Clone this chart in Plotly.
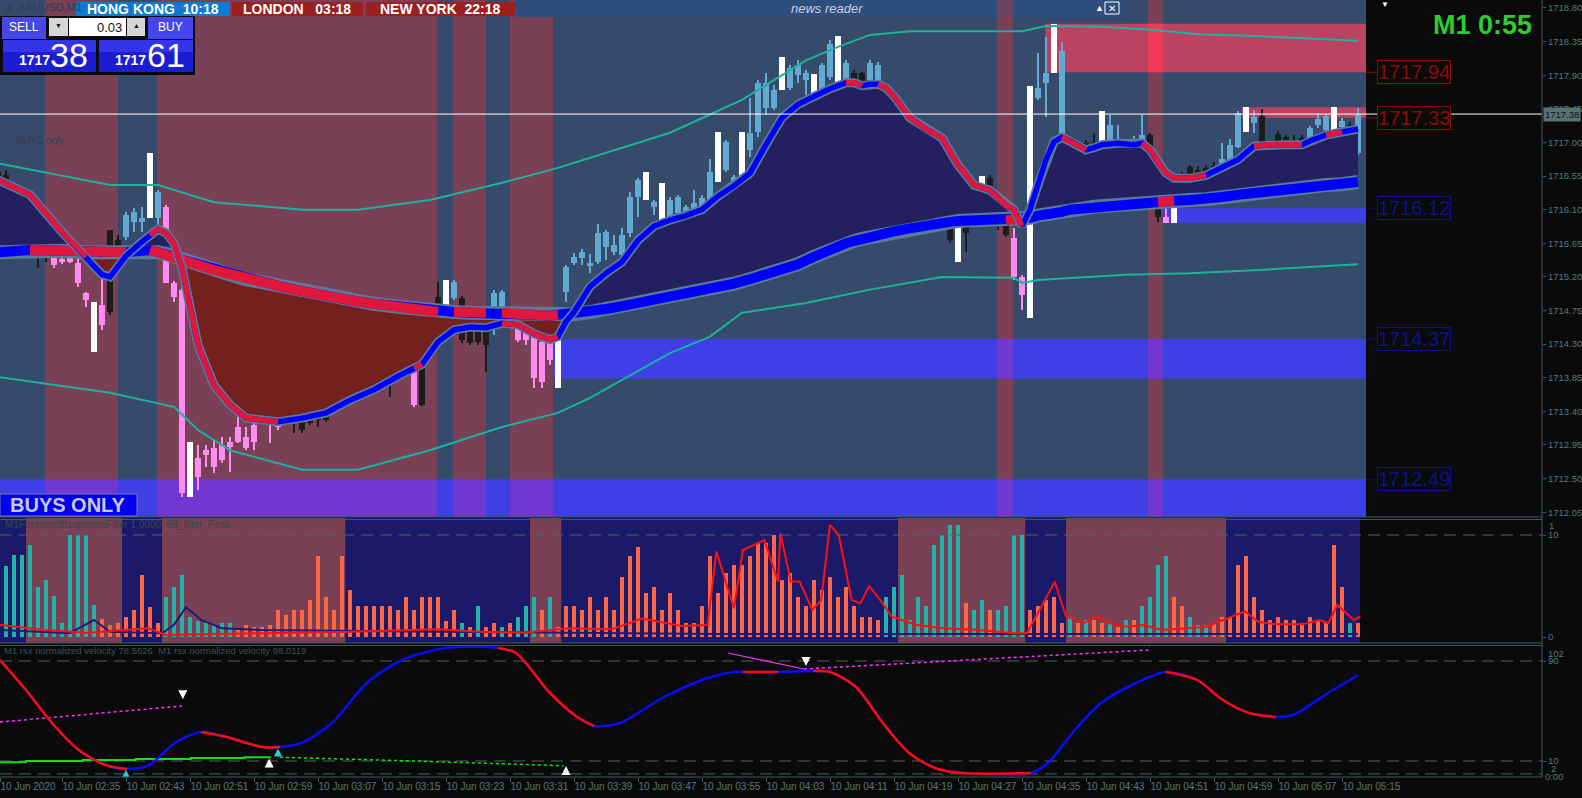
import plotly.graph_objects as go

W, H = 1582, 798
AXIS_PX = 1542

# ---------------- data (x = minute bar index, bar 0 = 02:27) ----------------
bars = list(range(171))
tick_bars = [0.25, 8, 16, 24, 32, 40, 48, 56, 64, 72, 80, 88, 96, 104, 112, 120, 128, 136, 144, 152, 160, 168]
tick_labels = ["10 Jun 2020", "10 Jun 02:35", "10 Jun 02:43", "10 Jun 02:51", "10 Jun 02:59", "10 Jun 03:07",
               "10 Jun 03:15", "10 Jun 03:23", "10 Jun 03:31", "10 Jun 03:39", "10 Jun 03:47", "10 Jun 03:55",
               "10 Jun 04:03", "10 Jun 04:11", "10 Jun 04:19", "10 Jun 04:27", "10 Jun 04:35", "10 Jun 04:43",
               "10 Jun 04:51", "10 Jun 04:59", "10 Jun 05:07", "10 Jun 05:15"]
price_ticks = [1712.05, 1712.50, 1712.95, 1713.40, 1713.85, 1714.30, 1714.75, 1715.20, 1715.65, 1716.10,
               1716.55, 1717.00, 1717.45, 1717.90, 1718.35, 1718.80]
last_price = 1717.38

# candle category: b=blue, k=black, p=pink, w=white
candle_type = ("kkkkkkk" "ppppp" "w" "p" "kk" "bbb" "w" "b" "ppp" "w" "ppppppppppp" "kkkkkkkkkkkkkkkk" "p"
               "kkk" "w" "b" "kkkk" "bb" "k" "ppppp" "w" "bbbbbbbbbb" "w" "b" "w" "bbbbbb" "w" "bb" "w" "bbbb"
               "w" "bbb" "w" "bb" "w" "b" "kk" "bb" "kkkkkkkkk" "w" "kk" "w" "kkk" "pp" "w" "bb" "w" "bb" "w"
               "kk" "w" "bbbbb" "kk" "p" "w" "kkkkk" "bbb" "w" "b" "k" "w" "kkkk" "bbb" "w" "b" "k" "b")

opens = [1716.60, 1716.56, 1716.23, 1716.06, 1716.12, 1715.92, 1715.56, 1715.45, 1715.44, 1715.47,
         1715.39, 1714.99, 1714.86, 1714.82, 1714.73, 1715.69, 1715.73, 1715.94, 1715.94, 1715.99,
         1715.99, 1716.14, 1715.12, 1715.03, 1712.25, 1712.78, 1712.88, 1712.91, 1712.95, 1712.99,
         1713.19, 1713.06, 1713.22, 1713.45, 1713.42, 1713.24, 1713.59, 1713.53, 1713.28, 1713.32,
         1713.55, 1713.78, 1713.71, 1713.66, 1714.13, 1714.13, 1713.78, 1713.91, 1713.99, 1714.09,
         1714.18, 1714.15, 1714.13, 1713.49, 1714.58, 1714.93, 1714.80, 1714.92, 1714.92, 1714.58,
         1714.58, 1714.62, 1714.78, 1714.78, 1714.62, 1714.53, 1714.49, 1714.40, 1714.33, 1714.32,
         1713.71, 1715.00, 1715.39, 1715.45, 1715.35, 1715.40, 1715.60, 1715.53, 1715.49, 1715.79,
         1716.27, 1716.23, 1716.14, 1716.46, 1716.00, 1716.06, 1716.06, 1716.10, 1716.12, 1716.14,
         1716.47, 1716.63, 1716.43, 1716.39, 1716.90, 1717.14, 1717.46, 1717.46, 1717.70, 1717.73,
         1717.90, 1717.84, 1717.92, 1717.70, 1717.88, 1717.60, 1717.84, 1717.93, 1717.93, 1717.84,
         1717.81, 1717.70, 1717.27, 1717.26, 1716.90, 1716.93, 1716.93, 1716.87, 1716.86, 1716.77,
         1716.07, 1715.87, 1716.23, 1716.19, 1716.52, 1716.14, 1716.03, 1715.72, 1715.20, 1714.65,
         1717.60, 1717.80, 1717.93, 1718.22, 1716.59, 1716.82, 1716.99, 1717.01, 1716.93, 1716.86,
         1716.90, 1716.94, 1716.93, 1716.94, 1717.10, 1716.46, 1716.00, 1715.92, 1716.47, 1716.67,
         1716.63, 1716.66, 1716.68, 1716.73, 1716.70, 1716.94, 1717.14, 1717.26, 1717.35, 1716.98,
         1717.11, 1717.07, 1717.03, 1717.06, 1717.03, 1717.23, 1717.17, 1717.10, 1717.21, 1717.23,
         1716.86]
highs = [1716.70, 1716.63, 1716.30, 1716.12, 1716.16, 1715.96, 1715.60, 1715.48, 1715.47, 1715.49,
         1715.47, 1715.00, 1714.86, 1715.25, 1715.83, 1715.76, 1716.07, 1716.12, 1716.14, 1716.86,
         1716.36, 1716.16, 1715.15, 1715.05, 1712.99, 1712.95, 1712.95, 1713.02, 1713.06, 1713.06,
         1713.32, 1713.19, 1713.28, 1713.53, 1713.45, 1713.28, 1713.62, 1713.55, 1713.35, 1713.42,
         1713.59, 1713.82, 1713.75, 1713.75, 1714.25, 1714.15, 1713.82, 1714.02, 1714.02, 1714.13,
         1714.22, 1714.18, 1714.32, 1714.56, 1714.65, 1715.13, 1715.16, 1715.16, 1714.94, 1714.62,
         1714.62, 1714.65, 1715.03, 1715.03, 1714.65, 1714.56, 1714.56, 1714.42, 1714.36, 1714.36,
         1714.76, 1715.36, 1715.52, 1715.57, 1715.51, 1715.91, 1715.83, 1715.76, 1715.85, 1716.34,
         1716.52, 1716.60, 1716.23, 1716.46, 1716.27, 1716.30, 1716.16, 1716.36, 1716.30, 1716.78,
         1717.14, 1717.03, 1716.56, 1717.14, 1717.60, 1717.84, 1717.93, 1717.77, 1718.14, 1718.04,
         1718.10, 1717.97, 1717.92, 1718.06, 1718.37, 1718.43, 1718.10, 1717.97, 1717.94, 1718.10,
         1718.08, 1717.73, 1717.34, 1717.30, 1717.03, 1716.99, 1716.97, 1716.97, 1716.87, 1716.79,
         1716.07, 1715.90, 1716.26, 1716.55, 1716.56, 1716.16, 1716.06, 1715.85, 1715.23, 1717.76,
         1718.20, 1718.41, 1718.59, 1718.35, 1717.03, 1716.82, 1717.03, 1717.13, 1717.42, 1717.37,
         1717.23, 1717.05, 1717.09, 1717.37, 1717.13, 1716.48, 1716.12, 1716.24, 1716.60, 1716.70,
         1716.68, 1716.70, 1716.74, 1716.99, 1717.05, 1717.42, 1717.47, 1717.43, 1717.45, 1716.98,
         1717.15, 1717.10, 1717.10, 1717.10, 1717.22, 1717.39, 1717.38, 1717.47, 1717.33, 1717.27,
         1717.46]
lows = [1716.23, 1716.07, 1715.99, 1715.90, 1715.83, 1715.32, 1715.40, 1715.32, 1715.37, 1715.39,
        1715.07, 1714.80, 1714.20, 1714.49, 1714.69, 1715.40, 1715.69, 1715.80, 1715.80, 1715.99,
        1715.49, 1715.12, 1714.86, 1712.25, 1712.25, 1712.35, 1712.66, 1712.58, 1712.71, 1712.59,
        1712.98, 1712.88, 1712.88, 1713.24, 1712.98, 1713.15, 1713.26, 1713.11, 1713.11, 1713.22,
        1713.19, 1713.26, 1713.58, 1713.49, 1713.59, 1713.73, 1713.69, 1713.78, 1713.78, 1713.59,
        1714.09, 1714.11, 1713.46, 1713.47, 1714.29, 1714.76, 1714.80, 1714.89, 1714.32, 1714.29,
        1714.29, 1713.93, 1714.42, 1714.76, 1714.54, 1714.33, 1714.29, 1713.71, 1713.71, 1714.02,
        1713.71, 1714.86, 1715.36, 1715.36, 1715.25, 1715.37, 1715.43, 1715.49, 1715.44, 1715.73,
        1716.00, 1716.23, 1716.03, 1715.73, 1715.96, 1716.03, 1716.03, 1716.07, 1716.10, 1716.12,
        1716.47, 1716.60, 1716.40, 1716.39, 1716.81, 1717.07, 1717.37, 1717.43, 1717.70, 1717.70,
        1717.80, 1717.64, 1717.60, 1717.66, 1717.84, 1717.60, 1717.81, 1717.37, 1717.37, 1717.64,
        1717.70, 1717.33, 1717.17, 1716.79, 1716.73, 1716.81, 1716.77, 1716.73, 1716.66, 1715.65,
        1715.40, 1715.53, 1716.00, 1716.19, 1715.94, 1715.83, 1715.73, 1715.16, 1714.76, 1714.65,
        1717.57, 1717.34, 1717.93, 1716.59, 1716.50, 1716.30, 1716.50, 1716.74, 1716.93, 1716.81,
        1716.87, 1716.60, 1716.73, 1716.91, 1716.39, 1715.94, 1715.92, 1715.92, 1716.26, 1716.54,
        1716.54, 1716.58, 1716.60, 1716.67, 1716.67, 1716.93, 1717.14, 1717.13, 1716.70, 1716.68,
        1716.79, 1716.90, 1716.86, 1716.97, 1717.01, 1717.19, 1717.14, 1717.10, 1717.17, 1716.73,
        1716.83]
closes = [1716.30, 1716.23, 1716.07, 1715.96, 1715.90, 1715.65, 1715.45, 1715.36, 1715.40, 1715.40,
          1715.12, 1714.89, 1714.20, 1714.56, 1715.83, 1715.53, 1716.03, 1716.07, 1715.99, 1716.86,
          1716.34, 1715.12, 1714.93, 1712.31, 1712.99, 1712.52, 1712.82, 1712.66, 1712.75, 1712.92,
          1712.99, 1712.91, 1712.99, 1713.32, 1713.31, 1713.19, 1713.28, 1713.24, 1713.15, 1713.24,
          1713.28, 1713.28, 1713.65, 1713.53, 1713.65, 1713.75, 1713.71, 1713.82, 1713.91, 1713.99,
          1714.15, 1714.13, 1713.49, 1714.45, 1714.32, 1714.78, 1715.16, 1715.13, 1714.36, 1714.32,
          1714.33, 1714.29, 1714.99, 1715.00, 1714.57, 1714.36, 1714.36, 1713.85, 1713.79, 1714.09,
          1714.76, 1715.33, 1715.47, 1715.53, 1715.39, 1715.79, 1715.80, 1715.63, 1715.76, 1716.27,
          1716.50, 1716.60, 1716.20, 1715.73, 1716.23, 1716.27, 1716.14, 1716.19, 1716.26, 1716.60,
          1717.14, 1717.01, 1716.54, 1717.14, 1717.13, 1717.80, 1717.80, 1717.70, 1718.14, 1718.00,
          1718.04, 1717.93, 1717.60, 1718.04, 1718.32, 1718.43, 1718.06, 1717.39, 1717.41, 1718.06,
          1718.04, 1717.34, 1717.21, 1716.81, 1716.74, 1716.83, 1716.81, 1716.74, 1716.77, 1715.69,
          1715.40, 1715.79, 1716.03, 1716.55, 1716.06, 1716.00, 1715.76, 1715.20, 1714.96, 1717.76,
          1717.73, 1717.93, 1718.59, 1716.59, 1717.01, 1716.30, 1716.54, 1716.77, 1717.42, 1717.23,
          1717.01, 1716.99, 1716.97, 1717.10, 1716.40, 1716.00, 1715.92, 1716.24, 1716.27, 1716.56,
          1716.56, 1716.60, 1716.63, 1716.78, 1716.97, 1717.39, 1717.47, 1717.34, 1716.73, 1716.68,
          1716.97, 1717.01, 1716.87, 1717.01, 1717.19, 1717.31, 1717.35, 1717.47, 1717.29, 1716.81,
          1717.38]

# moving averages (knots)
ma_bars = [0, 4, 8, 11, 13, 14, 16, 18, 19, 20, 21, 22, 23, 24, 25, 27, 29, 31, 35, 38,
           41, 44, 47, 50, 52, 53, 55, 57, 59, 61, 63, 65, 67, 69, 70, 71, 72, 74, 76, 78,
           80, 82, 84, 86, 88, 90, 92, 94, 96, 98, 100, 102, 104, 106, 107, 108, 109, 110, 111, 112,
           114, 116, 118, 120, 122, 124, 126, 127, 128, 129, 130, 131, 132, 133, 134, 136, 137, 138, 140, 142,
           143, 144, 145, 146, 147, 149, 151, 153, 155, 157, 159, 161, 163, 164, 166, 168, 170]
fast_ma = [1716.50, 1716.30, 1715.80, 1715.47, 1715.23, 1715.20, 1715.48, 1715.67, 1715.76, 1715.84,
           1715.79, 1715.65, 1715.32, 1714.76, 1714.29, 1713.75, 1713.49, 1713.31, 1713.26, 1713.31,
           1713.38, 1713.55, 1713.69, 1713.87, 1713.98, 1714.03, 1714.33, 1714.49, 1714.53, 1714.52,
           1714.58, 1714.56, 1714.44, 1714.36, 1714.40, 1714.60, 1714.73, 1715.07, 1715.25, 1715.40,
           1715.69, 1715.88, 1715.96, 1716.02, 1716.10, 1716.28, 1716.42, 1716.59, 1716.97, 1717.33,
           1717.51, 1717.62, 1717.72, 1717.80, 1717.80, 1717.76, 1717.78, 1717.78, 1717.73, 1717.62,
           1717.33, 1717.18, 1717.06, 1716.70, 1716.43, 1716.36, 1716.16, 1716.10, 1715.88, 1716.10,
           1716.43, 1716.77, 1717.01, 1717.07, 1717.02, 1716.90, 1716.93, 1716.97, 1716.99, 1716.97,
           1716.99, 1716.90, 1716.74, 1716.59, 1716.52, 1716.52, 1716.56, 1716.66, 1716.77, 1716.95,
           1716.97, 1716.97, 1716.97, 1717.02, 1717.10, 1717.14, 1717.18]
slow_ma = [1715.53, 1715.56, 1715.55, 1715.53, 1715.53, 1715.53, 1715.53, 1715.55, 1715.56, 1715.53,
           1715.51, 1715.47, 1715.43, 1715.40, 1715.36, 1715.29, 1715.23, 1715.17, 1715.08, 1715.01,
           1714.94, 1714.89, 1714.84, 1714.80, 1714.77, 1714.76, 1714.73, 1714.73, 1714.72, 1714.72,
           1714.72, 1714.70, 1714.69, 1714.68, 1714.69, 1714.69, 1714.70, 1714.73, 1714.77, 1714.81,
           1714.85, 1714.89, 1714.92, 1714.96, 1715.00, 1715.05, 1715.11, 1715.17, 1715.23, 1715.29,
           1715.37, 1715.47, 1715.57, 1715.65, 1715.68, 1715.71, 1715.73, 1715.76, 1715.79, 1715.81,
           1715.85, 1715.90, 1715.92, 1715.95, 1715.96, 1715.96, 1715.96, 1715.96, 1715.98, 1715.99,
           1716.02, 1716.03, 1716.04, 1716.07, 1716.10, 1716.12, 1716.14, 1716.15, 1716.18, 1716.19,
           1716.19, 1716.20, 1716.20, 1716.22, 1716.22, 1716.23, 1716.24, 1716.27, 1716.30, 1716.32,
           1716.36, 1716.38, 1716.39, 1716.40, 1716.43, 1716.44, 1716.47]
fast_red = [(0, 11), (19, 35), (52, 53), (63, 70), (106, 108), (110, 128), (133, 136), (143, 151), (157, 163), (166, 168)]
slow_red = [(4, 16), (19, 55), (57, 61), (63, 70), (126, 128), (145, 147)]

env_up_bars = [0, 14, 20, 27, 38, 45, 54, 63, 70, 76, 84, 93, 101, 105, 109, 114, 128, 131, 138, 144, 150, 156, 163, 170]
env_up = [1716.72, 1716.43, 1716.43, 1716.20, 1716.10, 1716.10, 1716.23, 1716.46, 1716.66, 1716.86, 1717.13, 1717.57,
          1718.10, 1718.28, 1718.44, 1718.49, 1718.49, 1718.56, 1718.55, 1718.51, 1718.45, 1718.43, 1718.39, 1718.36]
env_lo_bars = [0, 14, 22, 25, 29, 38, 45, 54, 63, 70, 74, 84, 89, 93, 101, 109, 118, 127, 128, 130, 141, 149, 157, 166, 170]
env_lo = [1713.86, 1713.65, 1713.46, 1713.15, 1712.88, 1712.62, 1712.62, 1712.88, 1713.19, 1713.38, 1713.58, 1714.18,
          1714.40, 1714.72, 1714.85, 1715.03, 1715.20, 1715.19, 1715.12, 1715.16, 1715.23, 1715.25, 1715.29, 1715.35, 1715.37]

# background sessions (bar ranges)
main_band_start = [5.9, 19.9, 56.9, 64.0, 124.9, 143.75]
main_band_end = [15.0, 54.9, 61.0, 69.4, 126.9, 145.6]
p2_band_start = [3.5, 20.5, 66.5, 112.5, 133.5]
p2_band_end = [15.5, 43.4, 70.4, 128.4, 153.5]

# supply / demand zones
zone_lo = [1717.94, 1717.33, 1715.92, 1713.84, 1711.99]
zone_hi = [1718.59, 1717.47, 1716.12, 1714.37, 1712.49]
zone_start = [130.9, 155.5, 145.6, 69.4, 0.25]
zone_end = [171, 171, 171, 171, 171]
zone_kind = ["sell", "sell", "buy", "buy", "buy"]
level_prices = [1717.94, 1717.33, 1716.12, 1714.37, 1712.49]
level_kind = ["sell", "sell", "buy", "buy", "buy"]

# filter histogram panel
hist_vals = [2.9, 7.0, 8.0, 8.0, 9.0, 4.9, 5.6, 4.0, 1.4, 10.0,
             10.0, 10.0, 3.1, 1.8, 1.2, 1.4, 2.0, 2.6, 6.1, 2.9,
             1.4, 3.9, 4.9, 6.1, 2.0, 1.6, 1.4, 1.2, 1.4, 1.4,
             0.9, 1.2, 1.0, 1.0, 1.2, 2.6, 2.2, 2.6, 2.6, 3.6,
             7.9, 3.9, 2.6, 7.9, 4.6, 3.0, 3.0, 3.0, 3.0, 3.0,
             2.6, 3.9, 2.6, 3.9, 3.9, 3.9, 1.6, 2.6, 1.4, 1.0,
             3.0, 1.0, 1.4, 1.0, 1.4, 2.0, 3.0, 3.9, 2.6, 3.9,
             1.0, 3.0, 3.0, 2.6, 3.9, 2.6, 3.9, 2.6, 5.9, 7.9,
             8.8, 4.3, 4.9, 2.6, 4.3, 2.6, 1.4, 1.4, 3.0, 7.9,
             4.3, 6.3, 7.1, 7.1, 7.9, 9.2, 9.2, 10.0, 5.6, 6.3,
             3.9, 3.0, 5.6, 4.6, 5.9, 3.9, 4.9, 3.0, 2.0, 2.0,
             1.7, 3.9, 4.9, 6.1, 1.7, 3.9, 3.0, 9.0, 10.0, 11.0,
             11.0, 3.3, 2.6, 3.6, 2.6, 2.6, 3.0, 10.0, 10.0, 2.6,
             3.0, 3.6, 3.9, 1.4, 2.0, 1.4, 1.7, 1.7, 1.4, 1.4,
             1.0, 1.7, 1.7, 3.0, 3.9, 7.1, 7.9, 3.9, 3.0, 2.0,
             1.2, 1.2, 1.4, 2.0, 2.0, 7.1, 7.9, 3.9, 2.6, 1.7,
             2.0, 1.7, 1.7, 1.4, 2.0, 1.7, 1.4, 9.0, 4.9, 1.4,
             1.4]
hist_dir = ("t" * 13 + "o" * 8 + "t" * 9 + "o" * 28 + "t" + "o" + "t" + "oo" + "t" + "o" + "ttt" + "o" + "t"
            + "o" * 41 + "t" * 10 + "o" + "tt" + "o" + "tttt" + "o" * 5 + "t" + "o" + "t" + "oo" + "t" + "o"
            + "t" + "o" + "tttt" + "oo" + "ttt" + "o" * 17 + "t" + "o")
p2_red_bars = [0.25, 5.7, 11.2, 18.8, 21, 33, 44, 54.9, 60.3, 65.8, 71.2, 76.7, 80.5, 85.4, 88.7, 89.8, 92, 93.1,
               95.8, 97.5, 97.8, 99.1, 100.2, 101.8, 102.9, 104, 105.1, 106.7, 107.8, 108.9, 110.6, 111.7, 114.9,
               118.2, 122.6, 127, 128.6, 130.2, 132.1, 133.5, 135.7, 137.3, 139, 141.1, 143.3, 145.5, 151, 154.2,
               155.9, 157.5, 159.7, 163, 165.2, 166.3, 167.4, 169.5, 170.3]
p2_red = [1.2, 0.69, 0.42, 0.85, 0.2, 0.37, 0.52, 0.75, 0.52, 0.42, 0.85, 0.75, 1.8, 1.08, 1.18, 8.37, 2.8, 8.53,
          9.5, 5.43, 10.16, 5.43, 5.43, 2.65, 3.63, 11.0, 10.0, 3.63, 3.3, 5.0, 3.3, 2.0, 1.18, 0.85, 0.69, 0.37,
          0.37, 2.65, 5.43, 2.0, 1.35, 2.0, 1.35, 1.0, 1.18, 0.69, 1.0, 2.0, 2.5, 1.5, 1.24, 1.24, 1.67, 1.35,
          3.14, 1.67, 2.0]
p2_navy_bars = [0.25, 9, 12, 14, 20.5, 22, 23.5, 25.4, 28, 33, 55, 90, 130, 170]
p2_navy = [0.69, 0.37, 1.67, 0.52, 0.37, 1.2, 2.93, 1.67, 0.85, 0.69, 0.52, 0.3, 0.3, 0.3]

# rsx panel
rsx_bars = [0.25, 3.5, 6.75, 10.1, 13.4, 16.1, 18.9, 22.1, 25.4, 28.6, 33, 35.25, 37.9, 41.75, 46.1, 50.5, 56,
            62.5, 64.75, 69, 72.4, 74.5, 77.75, 83.25, 88.75, 92, 93.1, 97.5, 101.9, 104, 107.25, 110.6, 113.9,
            117.1, 120.4, 129.1, 131.25, 134.6, 137.9, 142.25, 146, 149.9, 153.1, 156.4, 159.75, 161.9, 166.25, 170]
rsx = [90.8, 66.8, 40.4, 18.8, 6.8, 3.6, 6.8, 24.4, 33.2, 29.2, 21.2, 21.2, 24.4, 40.4, 72.4, 90.8, 100.4,
       100.4, 96.4, 64.4, 45.2, 38.0, 40.4, 61.2, 76.4, 81.2, 81.2, 81.2, 82.0, 81.2, 69.2, 40.4, 16.4,
       4.4, 0.4, 0.4, 8.4, 34.8, 56.4, 72.4, 81.2, 74.8, 58.8, 48.4, 45.2, 46.8, 64.4, 78.6]
rsx_red = [(0.25, 16.1), (25.4, 35.25), (62.5, 74.5), (93.1, 97.5), (101.9, 129.1), (146, 159.75)]
green_bars = [0.25, 3.5, 10.6, 17.2, 24.1, 30.8, 34.1]
green = [9.0, 10.0, 10.8, 11.6, 12.4, 13.0, 13.0]
green_dot_bars = [35.25, 44, 52, 60, 66, 70.7]
green_dot = [13.0, 11.6, 10.0, 8.4, 7.0, 6.2]
mag1_bars, mag1 = [0.25, 23.0], [41.2, 54.0]
mag2_bars, mag2 = [91.25, 100.75], [96.4, 83.6]
mag3_bars, mag3 = [100.75, 143.9], [83.6, 98.8]
arrow_dn_bars, arrow_dn = [23.1, 101, 143.9], [59.5, 86, 101.5]
arrow_up_bars, arrow_up = [33.9, 71], [12.0, 6.0]
arrow_cy_bars, arrow_cy = [16, 35], [3.0, 20.0]

# ---------------- styling ----------------
BG_BLUE = "#364a6c"
BG_MAUVE = "#7a4055"
NAVY_FILL = "#24205f"
RED_FILL = "#74201f"
TEAL = "#1fb0a0"
OUTLINE = "#5a7a98"
BLUE = "#0000ff"
RED = "#e0163c"
AXC = "#3c5a5a"
TXT = "#5a7878"
NARROW = "Liberation Sans Narrow, Arial Narrow, Liberation Sans, sans-serif"
CANDLE_COL = {"b": "#62aad2", "k": "#1c1c1c", "p": "#ff8cf0", "w": "#ffffff"}
HIST_COL = {"t": "#22b2a6", "o": "#ff6644"}
XR = [0.25, 193.0]


def fx(px):
    return px / W


def fy(py):
    return 1 - py / H


def segments(xs, ys, ranges):
    ox, oy = [], []
    for a, b in ranges:
        for x, y in zip(xs, ys):
            if a <= x <= b:
                ox.append(x)
                oy.append(y)
        ox.append(None)
        oy.append(None)
    return ox, oy


fig = go.Figure()
nl = dict(showlegend=False, hoverinfo="skip")

# fills between fast & slow
upper = [max(f, s) for f, s in zip(fast_ma, slow_ma)]
lower = [min(f, s) for f, s in zip(fast_ma, slow_ma)]
fig.add_trace(go.Scatter(x=ma_bars, y=slow_ma, mode="lines", line=dict(width=0), **nl))
fig.add_trace(go.Scatter(x=ma_bars, y=upper, mode="lines", line=dict(width=0), fill="tonexty", fillcolor=NAVY_FILL, **nl))
fig.add_trace(go.Scatter(x=ma_bars, y=slow_ma, mode="lines", line=dict(width=0), **nl))
fig.add_trace(go.Scatter(x=ma_bars, y=lower, mode="lines", line=dict(width=0), fill="tonexty", fillcolor=RED_FILL, **nl))

# envelopes
fig.add_trace(go.Scatter(x=env_up_bars, y=env_up, mode="lines", line=dict(color=TEAL, width=2), **nl))
fig.add_trace(go.Scatter(x=env_lo_bars, y=env_lo, mode="lines", line=dict(color=TEAL, width=2), **nl))

# slow line
fig.add_trace(go.Scatter(x=ma_bars, y=slow_ma, mode="lines", line=dict(color=OUTLINE, width=14), **nl))
fig.add_trace(go.Scatter(x=ma_bars, y=slow_ma, mode="lines", line=dict(color=BLUE, width=10), **nl))
sx, sy = segments(ma_bars, slow_ma, slow_red)
fig.add_trace(go.Scatter(x=sx, y=sy, mode="lines", line=dict(color=RED, width=10), connectgaps=False, **nl))
# fast line
fig.add_trace(go.Scatter(x=ma_bars, y=fast_ma, mode="lines", line=dict(color=OUTLINE, width=9), **nl))
fig.add_trace(go.Scatter(x=ma_bars, y=fast_ma, mode="lines", line=dict(color=BLUE, width=5.5), **nl))
fxs, fys = segments(ma_bars, fast_ma, fast_red)
fig.add_trace(go.Scatter(x=fxs, y=fys, mode="lines", line=dict(color=RED, width=5.5), connectgaps=False, **nl))

# candles
ccols = [CANDLE_COL[t] for t in candle_type]
fig.add_trace(go.Bar(x=bars, y=[h - l for h, l in zip(highs, lows)], base=lows, width=0.25,
                     marker=dict(color=ccols, line=dict(width=0)), **nl))
fig.add_trace(go.Bar(x=bars, y=[max(abs(c - o), 0.014) for o, c in zip(opens, closes)],
                     base=[min(o, c) for o, c in zip(opens, closes)], width=0.74,
                     marker=dict(color=ccols, line=dict(width=0)), **nl))

# panel 2
fig.add_trace(go.Bar(x=bars, y=hist_vals, width=0.42, marker=dict(color=[HIST_COL[d] for d in hist_dir], line=dict(width=0)),
                     xaxis="x2", yaxis="y2", **nl))
fig.add_trace(go.Scatter(x=p2_navy_bars, y=p2_navy, mode="lines", line=dict(color="#1c1c78", width=2), xaxis="x2", yaxis="y2", **nl))
fig.add_trace(go.Scatter(x=p2_red_bars, y=p2_red, mode="lines", line=dict(color="#ff1010", width=2), xaxis="x2", yaxis="y2", **nl))

# panel 3
p3 = dict(xaxis="x3", yaxis="y3")
fig.add_trace(go.Scatter(x=green_bars, y=green, mode="lines", line=dict(color="#10e010", width=2, shape="hv"), **p3, **nl))
fig.add_trace(go.Scatter(x=green_dot_bars, y=green_dot, mode="lines", line=dict(color="#10e010", width=1.5, dash="dot"), **p3, **nl))
fig.add_trace(go.Scatter(x=mag1_bars, y=mag1, mode="lines", line=dict(color="#ff30ff", width=1.5, dash="dot"), **p3, **nl))
fig.add_trace(go.Scatter(x=mag2_bars, y=mag2, mode="lines", line=dict(color="#ff30ff", width=1.2), **p3, **nl))
fig.add_trace(go.Scatter(x=mag3_bars, y=mag3, mode="lines", line=dict(color="#ff30ff", width=1.5, dash="dot"), **p3, **nl))
fig.add_trace(go.Scatter(x=rsx_bars, y=rsx, mode="lines", line=dict(color="#0a0aff", width=2.5, shape="spline", smoothing=0.8), **p3, **nl))
rx, ry = segments(rsx_bars, rsx, rsx_red)
fig.add_trace(go.Scatter(x=rx, y=ry, mode="lines", line=dict(color="#ff0a0a", width=2.5, shape="spline", smoothing=0.8),
                         connectgaps=False, **p3, **nl))
fig.add_trace(go.Scatter(x=arrow_dn_bars, y=arrow_dn, mode="markers", marker=dict(symbol="arrow-down", size=9, color="white"), **p3, **nl))
fig.add_trace(go.Scatter(x=arrow_up_bars, y=arrow_up, mode="markers", marker=dict(symbol="arrow-up", size=9, color="white"), **p3, **nl))
fig.add_trace(go.Scatter(x=arrow_cy_bars, y=arrow_cy, mode="markers", marker=dict(symbol="arrow-up", size=8, color="#20d0e0"), **p3, **nl))

# ---------------- shapes ----------------
shapes = []


def rect(x0, x1, y0, y1, color, xref="x", yref="y", layer="below", line=None):
    d = dict(type="rect", xref=xref, yref=yref, x0=x0, x1=x1, y0=y0, y1=y1, fillcolor=color, layer=layer,
             line=line if line else dict(width=0))
    shapes.append(d)


rect(0.25, 171, 0, 1, BG_BLUE, yref="y domain")
for s, e in zip(main_band_start, main_band_end):
    rect(s, e, 0, 1, BG_MAUVE, yref="y domain")
ZC = {"sell": ("#bb4262", "#f03a58"), "buy": ("#3f3fe6", "#7038d0")}
for lo, hi, s, e, k in zip(zone_lo, zone_hi, zone_start, zone_end, zone_kind):
    rect(s, e, lo, hi, ZC[k][0])
    for bs, be in zip(main_band_start, main_band_end):
        a, b = max(s, bs), min(e, be)
        if b > a:
            rect(a, b, lo, hi, ZC[k][1])
rect(0.25, 170.25, 0, 1, "#1b1a6a", xref="x2", yref="y2 domain")
for s, e in zip(p2_band_start, p2_band_end):
    rect(s, e, 0, 1, BG_MAUVE, xref="x2", yref="y2 domain")

DASH = dict(color="#4c6262", width=1, dash="12px,7px")
shapes.append(dict(type="line", xref="x2", yref="y2", x0=XR[0], x1=XR[1], y0=10, y1=10, line=DASH, layer="above"))
for v in (90, 10, -0.3):
    shapes.append(dict(type="line", xref="x3", yref="y3", x0=XR[0], x1=XR[1], y0=v, y1=v, line=DASH, layer="below"))

# current price line
shapes.append(dict(type="line", xref="paper", yref="y", x0=0, x1=fx(AXIS_PX), y0=last_price, y1=last_price,
                   line=dict(color="white", width=1), layer="above"))
# panel frames
for py in (517, 519.5, 643, 645.5, 777):
    shapes.append(dict(type="line", xref="paper", yref="paper", x0=0, x1=fx(AXIS_PX), y0=fy(py), y1=fy(py),
                       line=dict(color=AXC, width=1), layer="above"))
shapes.append(dict(type="line", xref="paper", yref="paper", x0=fx(AXIS_PX), x1=fx(AXIS_PX), y0=fy(777), y1=1,
                   line=dict(color=AXC, width=1), layer="above"))

# level label leader lines
for p, k in zip(level_prices, level_kind):
    c = "#8a0a0a" if k == "sell" else "#0a0a8a"
    shapes.append(dict(type="line", xref="paper", yref="y", x0=fx(1366), x1=fx(1377), y0=p, y1=p,
                       line=dict(color=c, width=1), layer="above"))


def prect(x0, y0, x1, y1, color, line=None):
    rect(fx(x0), fx(x1), fy(y1), fy(y0), color, xref="paper", yref="paper", layer="above", line=line)


# session header boxes
prect(76, 2, 230, 16, "#0a7ad4")
prect(232, 2, 363, 16, "#9c2020")
prect(366, 2, 515, 16, "#9c2020")
prect(515, 0, 1126, 17, "#2f4e80")
# session band showing through the news bar
for s, e in zip(main_band_start, main_band_end):
    if 64 < s < 140:
        rect(s, e, fy(17), 1, "#6c4464", yref="paper", layer="above")
prect(1105, 2, 1119, 14, "#2f4e80", line=dict(color="white", width=1))
# trade panel
prect(0, 16, 195, 75, "#0a0a0a")
prect(2, 17, 46, 39, "#4646ee")
prect(148, 17, 193, 39, "#4646ee")
prect(48, 17, 146, 37, "#111111")
prect(49, 18, 68, 36, "#d6d6d6")
prect(69, 18, 126, 36, "#ffffff")
prect(127, 18, 145, 36, "#d6d6d6")
prect(3, 40, 96, 72, "#1c1cd0")
prect(99, 40, 193, 72, "#1c1cd0")
prect(3, 40, 96, 52, "#3434e8")
prect(99, 40, 193, 52, "#3434e8")
# BUYS ONLY box
prect(0, 494, 137, 516, "#0000f0", line=dict(color="#7a7ab0", width=1))

# ---------------- annotations ----------------
ann = []


def ptext(x, y, text, size, color, anchor="left", family="Liberation Sans, Arial, sans-serif", bold=False, italic=False, **kw):
    t = f"<b>{text}</b>" if bold else text
    t = f"<i>{t}</i>" if italic else t
    ann.append(dict(xref="paper", yref="paper", x=fx(x), y=fy(y), text=t, showarrow=False, xanchor=anchor,
                    yanchor="middle", font=dict(size=size, color=color, family=family), **kw))


ptext(153, 9.5, "HONG KONG&nbsp;&nbsp;10:18", 14, "white", "center", bold=True)
ptext(297, 9.5, "LONDON&nbsp;&nbsp;&nbsp;03:18", 14, "white", "center", bold=True)
ptext(440, 9.5, "NEW YORK&nbsp;&nbsp;22:18", 14, "white", "center", bold=True)
ptext(827, 9, "news reader", 13, "#c8d0dc", "center", italic=True)
ptext(1099, 8, "▲", 9, "white", "center")
ptext(1112, 8, "✕", 10, "white", "center")
ptext(24, 27, "SELL", 12, "white", "center")
ptext(170, 27, "BUY", 12, "white", "center")
ptext(58.5, 26, "▼", 7, "#111111", "center")
ptext(136, 26, "▲", 7, "#111111", "center")
ptext(124, 27, "0.03", 13, "#111111", "right")
ptext(17, 60, "1717", 14, "white", bold=True)
ptext(48, 55, "38", 34, "white")
ptext(113, 60, "1717", 14, "white", bold=True)
ptext(145, 55, "61", 34, "white")
ptext(68, 505, "BUYS ONLY", 20, "#c8c8d8", "center", bold=True)
ptext(2, 7, "▲ XAUUSD,M1", 11, "#2c3e56")
ptext(14, 140, "BUYS only", 10, "#2e3e52")
ptext(3, 524, "M1ForexprofitsupremeFilter 1.0000&nbsp;&nbsp;88_filter&nbsp;&nbsp;Peak", 10, "#2e4848", family=NARROW)
ptext(2, 650, "M1 rsx normalized velocity 78.5626&nbsp;&nbsp;M1 rsx normalized velocity 98.0119", 9.5, "#3a5252", family=NARROW)
ptext(1482, 25, "M1 0:55", 27, "#2ecc2e", "center", bold=True)
ptext(1385, 4, "▼", 8, "white", "center")
# extra scale labels
ptext(1547, 525, "1", 9.5, TXT)
ptext(1546, 653, "102", 9.5, TXT)
ptext(1549, 768, "2", 9.5, TXT)
ptext(1543, 776, "0:00", 9.5, TXT)

for p, k in zip(level_prices, level_kind):
    c = "#8a0a0a" if k == "sell" else "#10108a"
    ann.append(dict(xref="paper", yref="y", x=fx(1377), y=p, text=f"{p:.2f}", showarrow=False, xanchor="left",
                    yanchor="middle", font=dict(size=20, color=c, family=NARROW), bordercolor=c, borderwidth=1,
                    borderpad=0, bgcolor="#0a0a0a"))
ann.append(dict(xref="paper", yref="y", x=fx(1543), y=last_price, text=f"{last_price:.2f}", showarrow=False,
                xanchor="left", yanchor="middle", font=dict(size=9.5, color="#0c1414", family="Liberation Sans, Arial, sans-serif"),
                bgcolor="#587272", borderpad=1))

# ---------------- layout ----------------
XD = [0, fx(AXIS_PX)]
axis_common = dict(showgrid=False, zeroline=False, range=XR, domain=XD, fixedrange=True, automargin=False)
tickfont = dict(size=9.5, color=TXT, family="Liberation Sans, Arial, sans-serif")
xtickfont = dict(size=10, color=TXT, family="Liberation Sans, Arial, sans-serif")
yax_common = dict(showgrid=False, zeroline=False, fixedrange=True, automargin=False, side="right",
                  tickmode="array", ticks="outside", ticklen=3, tickcolor=AXC, tickfont=tickfont)
fig.update_layout(
    width=W, height=H, autosize=False,
    margin=dict(l=0, r=0, t=0, b=0, pad=0, autoexpand=False),
    paper_bgcolor="#0a0a0a", plot_bgcolor="#0a0a0a",
    barmode="overlay", bargap=0, showlegend=False,
    xaxis=dict(anchor="y", showticklabels=False, ticks="", **axis_common),
    xaxis2=dict(anchor="y2", showticklabels=False, ticks="", **axis_common),
    xaxis3=dict(anchor="y3", tickmode="array", tickvals=tick_bars, ticktext=tick_labels, ticks="outside",
                ticklen=4, tickcolor=AXC, ticklabelposition="outside right", tickangle=0, tickfont=xtickfont,
                **axis_common),
    yaxis=dict(domain=[fy(517), 1], range=[1711.986, 1718.907], anchor="x",
               tickvals=price_ticks, ticktext=[f"{v:.2f}" for v in price_ticks], **yax_common),
    yaxis2=dict(domain=[fy(643), fy(518)], range=[-0.588, 11.667], anchor="x2",
                tickvals=[10, 0], ticktext=["10", "0"], **yax_common),
    yaxis3=dict(domain=[fy(777), fy(645)], range=[-2.8, 102.8], anchor="x3",
                tickvals=[90, 10], ticktext=["90", "10"], **yax_common),
    shapes=shapes,
    annotations=ann,
)

fig.write_html("out.html", config={"displayModeBar": False},
               post_script="document.body.style.margin='0';document.body.style.overflow='hidden';")
